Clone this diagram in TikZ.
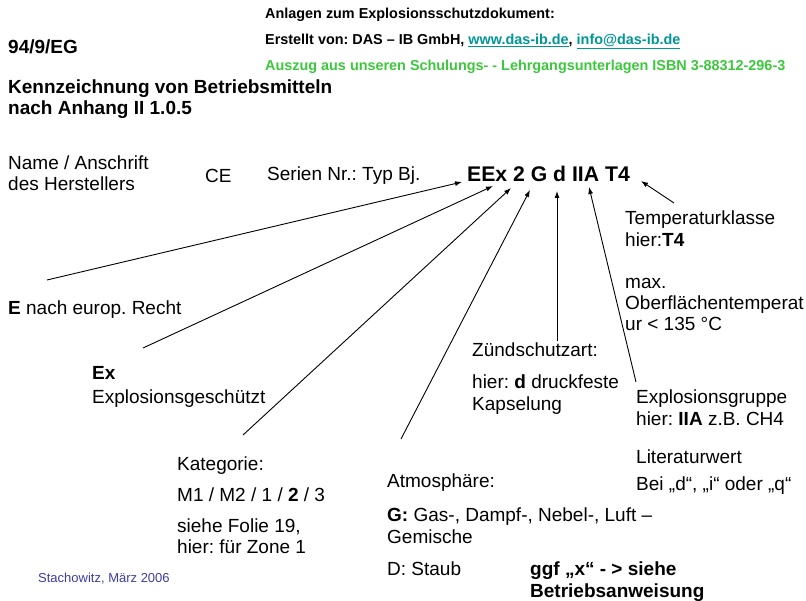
\documentclass[tikz,border=0pt]{standalone}
\usepackage{fontspec}
\setmainfont{Liberation Sans}
\usetikzlibrary{arrows.meta}
\definecolor{linkteal}{RGB}{0,150,150}
\definecolor{auszuggreen}{RGB}{60,200,60}
\definecolor{autorblue}{RGB}{60,60,170}
\frenchspacing
\tikzset{
  txt/.style={anchor=base west, inner sep=0pt, font=\fontsize{19}{22}\selectfont},
  btxt/.style={txt, font=\fontsize{19}{22}\selectfont\bfseries},
  kopf/.style={anchor=base west, inner sep=0pt, font=\fontsize{14.4}{17}\selectfont\bfseries},
  zeiger/.style={line width=0.9pt, -{Latex[length=7pt,width=5pt]}}
}
\begin{document}
\begin{tikzpicture}[x=1pt,y=-1pt]
  \useasboundingbox (0,0) rectangle (806,601);

  %kopfzeilen
  \node (anlagen) at (265,19) [kopf] {Anlagen zum Explosionsschutzdokument:};
  \node (erstellt) at (265,45) [kopf] {Erstellt von: DAS -- IB GmbH, \textcolor{linkteal}{\underline{www.das-ib.de}}, \textcolor{linkteal}{\underline{info@das-ib.de}}};
  \node (auszug) at (265,71) [kopf, text=auszuggreen] {Auszug aus unseren Schulungs- - Lehrgangsunterlagen ISBN 3-88312-296-3};

  %titel
  \node (richtlinie) at (8,54) [btxt] {94/9/EG};
  \node (titel1) at (8,94) [btxt] {Kennzeichnung von Betriebsmitteln};
  \node (titel2) at (8,115) [btxt] {nach Anhang II 1.0.5};

  %kennzeichnungszeile
  \node (name1) at (8,170) [txt] {Name / Anschrift};
  \node (name2) at (8,191) [txt] {des Herstellers};
  \node (ce) at (205,183) [txt] {CE};
  \node (serie) at (267,181) [txt] {Serien Nr.: Typ Bj.};
  \node (code) at (467,182) [btxt, font=\fontsize{21.2}{25}\selectfont\bfseries] {EEx 2 G d IIA T4};

  %erklaerungen
  \node (temp1) at (625,225) [txt] {Temperaturklasse};
  \node (temp2) at (625,247) [txt] {hier:\textbf{T4}};
  \node (max1) at (625,289) [txt] {max.};
  \node (max2) at (625,310) [txt] {Oberflächentemperat};
  \node (max3) at (625,331) [txt] {ur < 135 °C};
  \node (europ) at (8,315) [txt] {\textbf{E} nach europ. Recht};
  \node (ex1) at (92,380) [btxt] {Ex};
  \node (ex2) at (92,403) [txt] {Explosionsgeschützt};
  \node (zuend1) at (472,357) [txt] {Zündschutzart:};
  \node (zuend2) at (472,389) [txt] {hier: \textbf{d} druckfeste};
  \node (zuend3) at (472,411) [txt] {Kapselung};
  \node (gruppe1) at (636,404) [txt] {Explosionsgruppe};
  \node (gruppe2) at (636,425) [txt] {hier: \textbf{IIA} z.B. CH4};
  \node (gruppe3) at (636,463) [txt] {Literaturwert};
  \node (gruppe4) at (636,490) [txt] {Bei „d“, „i“ oder „q“};
  \node (kat1) at (177,471) [txt] {Kategorie:};
  \node (kat2) at (177,501) [txt] {M1 / M2 / 1 / \textbf{2} / 3};
  \node (kat3) at (177,532) [txt] {siehe Folie 19,};
  \node (kat4) at (177,553) [txt] {hier: für Zone 1};
  \node (atmo1) at (387,487) [txt] {Atmosphäre:};
  \node (atmo2) at (387,521) [txt] {\textbf{G:} Gas-, Dampf-, Nebel-, Luft --};
  \node (atmo3) at (387,543) [txt] {Gemische};
  \node (atmo4) at (387,575) [txt] {D: Staub};
  \node (ggf1) at (530,575) [btxt] {ggf „x“ - > siehe};
  \node (ggf2) at (530,597) [btxt] {Betriebsanweisung};
  \node (autor) at (38,582) [kopf, font=\fontsize{13}{15}\selectfont, text=autorblue] {Stachowitz, März 2006};

  %pfeile
  \coordinate (fussE) at (47,280);    \coordinate (spitzeE) at (462,182);
  \coordinate (fussEx) at (143,348);  \coordinate (spitzeEx) at (493,186);
  \coordinate (fussKat) at (243,435); \coordinate (spitzeKat) at (511,188);
  \coordinate (fussAtm) at (401,439); \coordinate (spitzeAtm) at (530,190);
  \coordinate (fussZs) at (557,341);  \coordinate (spitzeZs) at (557,191);
  \coordinate (fussGr) at (636,382);  \coordinate (spitzeGr) at (589,187);
  \coordinate (fussT) at (674,203);   \coordinate (spitzeT) at (641,181);
  \draw [zeiger] (fussE)--(spitzeE);
  \draw [zeiger] (fussEx)--(spitzeEx);
  \draw [zeiger] (fussKat)--(spitzeKat);
  \draw [zeiger] (fussAtm)--(spitzeAtm);
  \draw [zeiger] (fussZs)--(spitzeZs);
  \draw [zeiger] (fussGr)--(spitzeGr);
  \draw [zeiger] (fussT)--(spitzeT);
\end{tikzpicture}
\end{document}
